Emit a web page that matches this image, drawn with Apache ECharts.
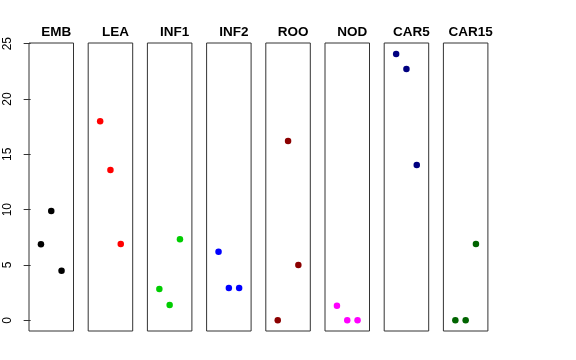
<!DOCTYPE html>
<html><head><meta charset="utf-8">
<script src="https://cdn.jsdelivr.net/npm/echarts@6/dist/echarts.min.js"></script>
<style>html,body{margin:0;padding:0;background:#fff}#c{width:576px;height:360px}</style>
</head><body><div id="c"></div>
<script>
const categories = ["EMB","LEA","INF1","INF2","ROO","NOD","CAR5","CAR15"];
const xPositions = [1,2,3];
const values = [
  [6.87, 9.88, 4.49],
  [17.98, 13.58, 6.9],
  [2.83, 1.39, 7.32],
  [6.2, 2.92, 2.92],
  [0, 16.2, 5.0],
  [1.32, 0, 0],
  [24.06, 22.7, 14.03],
  [0, 0, 6.9]
];
const colors = ["#000000","#FF0000","#00CD00","#0000FF","#8B0000","#FF00FF","#000080","#006400"];
const yTicks = [0,5,10,15,20,25];

const chart = echarts.init(document.getElementById('c'));
const grids=[], xAxes=[], yAxes=[], series=[], titles=[];
const left0 = 29, step = 59.2, gw = 44.5, gTop = 43, gh = 288;
categories.forEach((cat,i)=>{
  const l = left0 + i*step;
  grids.push({left:l, top:gTop, width:gw, height:gh, show:true, borderColor:'#333', borderWidth:1, backgroundColor:'transparent'});
  xAxes.push({gridIndex:i, type:'value', min:-0.16, max:4.16, show:false});
  yAxes.push({gridIndex:i, type:'value', min:-0.964, max:25.06,
    show: i===0,
    axisLine:{show:false},
    axisTick:{show:true, length:7, lineStyle:{color:'#333'}, customValues: yTicks},
    axisLabel:{show:true, rotate:90, margin:15, color:'#000', fontSize:12, fontFamily:'Liberation Sans, Arial', customValues: yTicks},
    splitLine:{show:false}});
  series.push({type:'scatter', xAxisIndex:i, yAxisIndex:i, symbolSize:6.5,
    itemStyle:{color:colors[i], opacity:1},
    data: xPositions.map((x,j)=>[x, values[i][j]])});
  titles.push({text:cat, left:l + gw/2, top:20, textAlign:'center',
    textStyle:{fontSize:13.5, fontWeight:'bold', color:'#000', fontFamily:'Liberation Sans, Arial'}});
});
chart.setOption({animation:false, title:titles, grid:grids, xAxis:xAxes, yAxis:yAxes, series:series});
</script></body></html>
